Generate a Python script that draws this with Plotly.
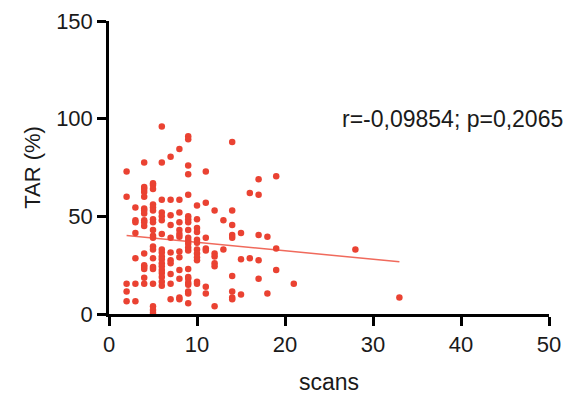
import numpy as np
import plotly.graph_objects as go

# Number of scans per subject and corresponding TAR (%) values, grouped by scan count
scan_counts = [2, 3, 4, 5, 6, 7, 8, 9, 10, 11, 12, 13, 14, 15, 16, 17, 18, 19, 21, 28, 33]
tar_by_scans = [
    [73, 60, 15.5, 11.5, 6.5],
    [54.5, 48, 47, 41.5, 28.5, 15.5, 6.5],
    [77.5, 65, 64, 62.5, 60, 54, 53, 51.5, 48, 47, 45, 31, 25, 24, 23, 18.5, 15.5],
    [67, 66, 64, 56, 54.5, 53, 48.5, 47, 43, 40, 39, 34.5, 33, 28.5, 24, 23, 15.5, 4, 2, 0.5],
    [96, 77.5, 58.5, 52, 50, 48, 41, 33, 31.5, 29.5, 28, 26, 24.5, 22.5, 21, 19, 16.5, 14.5],
    [80.5, 58.5, 50.5, 45.5, 39, 31.5, 27.5, 26, 20.5, 15.5, 7.5],
    [84.5, 58.5, 52, 47, 43, 41, 39.5, 32, 29, 22.5, 18, 8.5, 7.5],
    [91, 89.5, 76, 71.5, 61, 50, 48.5, 47, 43, 39, 37.5, 36, 34, 32.5, 23, 19, 18, 16, 15, 11.5, 10.5, 5.5],
    [55.5, 48.5, 44, 42, 38, 36.5, 33, 31, 29, 27.5, 16.5, 15.5],
    [73, 57, 39, 33.5, 32.5, 14, 10.5],
    [53, 31, 29.5, 26, 24.5, 4],
    [48, 33],
    [88, 53, 45.5, 40.5, 39, 19.5, 11.5, 8.5, 7.5],
    [41.5, 28, 10],
    [62, 28.5],
    [69, 61, 40.5, 27.5, 18],
    [39.5, 10.5],
    [70.5, 33.5, 22.5],
    [15.5],
    [33],
    [8.5],
]

x_ticks = [0, 10, 20, 30, 40, 50]
y_ticks = [0, 50, 100, 150]
stats_label = "r=-0,09854; p=0,2065"

scans = np.array([s for s, vals in zip(scan_counts, tar_by_scans) for _ in vals], dtype=float)
tar = np.array([v for vals in tar_by_scans for v in vals], dtype=float)

# Least-squares regression line over the observed scan range
slope, intercept = np.polyfit(scans, tar, 1)
fit_x = np.array([scans.min(), scans.max()])
fit_y = slope * fit_x + intercept

point_color = "#EA4232"
line_color = "#F06A5C"
text_color = "#1a1a1a"
font_family = "Liberation Sans, Arial, Helvetica, sans-serif"

ML, MR, MT, MB = 109, 27, 21, 82
W, H = 576, 396

fig = go.Figure()
fig.add_trace(go.Scatter(
    x=fit_x, y=fit_y, mode="lines",
    line=dict(color=line_color, width=1.5),
    hoverinfo="skip", showlegend=False,
))
fig.add_trace(go.Scatter(
    x=scans, y=tar, mode="markers",
    marker=dict(color=point_color, size=6.5, line=dict(width=0)),
    cliponaxis=False, showlegend=False,
))

axis_common = dict(
    showgrid=False, zeroline=False, showline=True, linecolor="black", linewidth=2.5,
    ticks="outside", ticklen=9, tickwidth=2.5, tickcolor="black", automargin=False,
    tickfont=dict(family=font_family, size=22, color=text_color),
)

fig.update_layout(
    width=W, height=H,
    margin=dict(l=ML, r=MR, t=MT, b=MB),
    paper_bgcolor="white", plot_bgcolor="white",
    font=dict(family=font_family, color=text_color),
    xaxis=dict(range=[0, 50], tickvals=x_ticks, **axis_common,
               title=dict(text="scans", font=dict(size=23), standoff=18)),
    yaxis=dict(range=[0, 150], tickvals=y_ticks, **axis_common,
               title=dict(text="TAR (%)", font=dict(size=22), standoff=10)),
    annotations=[dict(
        x=(565 - ML) / (W - ML - MR), xref="paper", y=100, yref="y",
        xanchor="right", yanchor="middle",
        text=stats_label, showarrow=False,
        font=dict(family=font_family, size=23, color=text_color),
    )],
)

fig.write_html("out.html")
